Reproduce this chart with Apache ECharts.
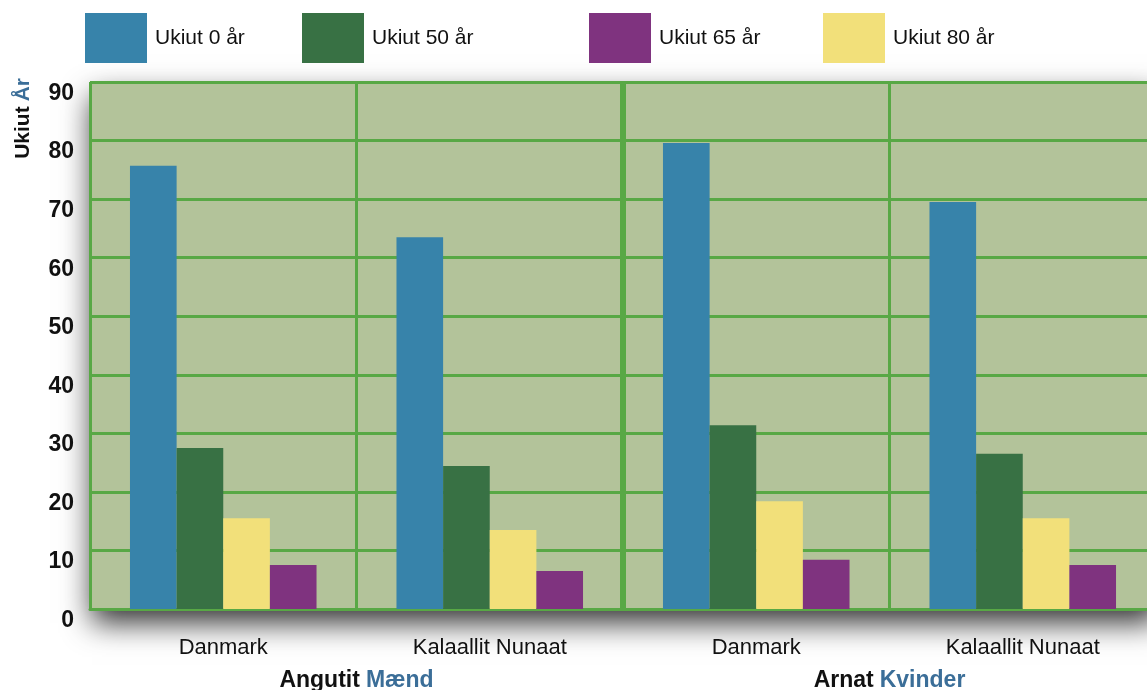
<!DOCTYPE html>
<html>
<head>
<meta charset="utf-8">
<script src="https://cdn.jsdelivr.net/npm/echarts@6/dist/echarts.min.js"></script>
<style>
html,body{margin:0;padding:0;background:#fff;}
#chart{width:1147px;height:690px;}
</style>
</head>
<body>
<div id="chart"></div>
<script>
const categories = ['Danmark', 'Kalaallit Nunaat', 'Danmark', 'Kalaallit Nunaat'];
const groups = [['Angutit', 'Mænd'], ['Arnat', 'Kvinder']];
const seriesNames = ['Ukiut 0 år', 'Ukiut 50 år', 'Ukiut 65 år', 'Ukiut 80 år'];
const ukiut0 = [75.7, 63.5, 79.6, 69.5];
const ukiut50 = [27.5, 24.4, 31.4, 26.5];
const ukiut65 = [15.5, 13.5, 18.4, 15.5];
const ukiut80 = [7.5, 6.5, 8.4, 7.5];
const yTicks = { min: 0, max: 90, interval: 10 };

const FONT = '"Liberation Sans", Arial, sans-serif';
const GREEN_LINE = '#58a845';
const BLUE_TXT = '#3b6e98';
// bar colours (as drawn) and legend swatch colours (as shown in the reference legend)
const barColors = ['#3783aa', '#387144', '#f2e07a', '#7f337f'];
const legendColors = ['#3783aa', '#387144', '#7f337f', '#f2e07a'];
const legendLefts = [85, 302, 589, 823];

const chart = echarts.init(document.getElementById('chart'));

const legends = seriesNames.map((n, i) => ({
  left: legendLefts[i], top: 13,
  itemWidth: 62, itemHeight: 50, icon: 'rect',
  padding: 0,
  selectedMode: false,
  textStyle: { fontFamily: FONT, fontSize: 21, color: '#111', padding: [0, 0, 0, 3] },
  data: [{ name: n, itemStyle: { color: legendColors[i] } }]
}));

const valuesList = [ukiut0, ukiut50, ukiut65, ukiut80];

chart.setOption({
  animation: false,
  legend: legends,
  grid: {
    left: 90, top: 82, width: 1066, height: 527,
    outerBoundsMode: 'none', containLabel: false,
    show: true, backgroundColor: '#b3c39a', borderWidth: 0,
    shadowColor: 'rgba(0,0,0,0.8)', shadowBlur: 28, shadowOffsetY: 14, shadowOffsetX: 2
  },
  xAxis: [
    {
      type: 'category', data: categories, position: 'bottom',
      axisLine: { show: true, lineStyle: { color: GREEN_LINE, width: 3 } },
      axisTick: { show: false },
      splitLine: { show: true, lineStyle: { color: GREEN_LINE, width: 3 } },
      axisLabel: { fontFamily: FONT, fontSize: 22, color: '#111', margin: 28 }
    },
    {
      type: 'category', data: groups.map(g => g[0] + '|' + g[1]), position: 'bottom',
      axisLine: { show: false }, axisTick: { show: false },
      splitLine: { show: true, showMinLine: false, showMaxLine: false, lineStyle: { color: GREEN_LINE, width: 6 } },
      axisLabel: {
        margin: 60,
        formatter: (v) => { const p = v.split('|'); return '{a|' + p[0] + '}{b|' + p[1] + '}'; },
        rich: {
          a: { fontFamily: FONT, fontSize: 23, fontWeight: 'bold', color: '#111' },
          b: { fontFamily: FONT, fontSize: 23, fontWeight: 'bold', color: BLUE_TXT, padding: [0, 0, 0, 6] }
        }
      }
    }
  ],
  yAxis: {
    type: 'value', min: yTicks.min, max: yTicks.max, interval: yTicks.interval,
    axisLine: { show: false }, axisTick: { show: false },
    splitLine: { show: true, lineStyle: { color: GREEN_LINE, width: 3 } },
    axisLabel: { fontFamily: FONT, fontSize: 23, fontWeight: 'bold', color: '#111', margin: 16, verticalAlign: 'top' },
    name: '{a|Ukiut}{b|År}',
    nameLocation: 'end', nameRotate: 90, nameGap: 4,
    nameTextStyle: {
      align: 'right', verticalAlign: 'bottom', padding: [0, 0, 56, 0],
      rich: {
        a: { fontFamily: FONT, fontSize: 21, fontWeight: 'bold', color: '#111' },
        b: { fontFamily: FONT, fontSize: 21, fontWeight: 'bold', color: BLUE_TXT, padding: [0, 0, 0, 5] }
      }
    }
  },
  series: seriesNames.map((n, i) => ({
    name: n, type: 'bar', xAxisIndex: 0,
    data: valuesList[i],
    barGap: '0%', barCategoryGap: '30%',
    itemStyle: { color: barColors[i] }
  }))
});
</script>
</body>
</html>
